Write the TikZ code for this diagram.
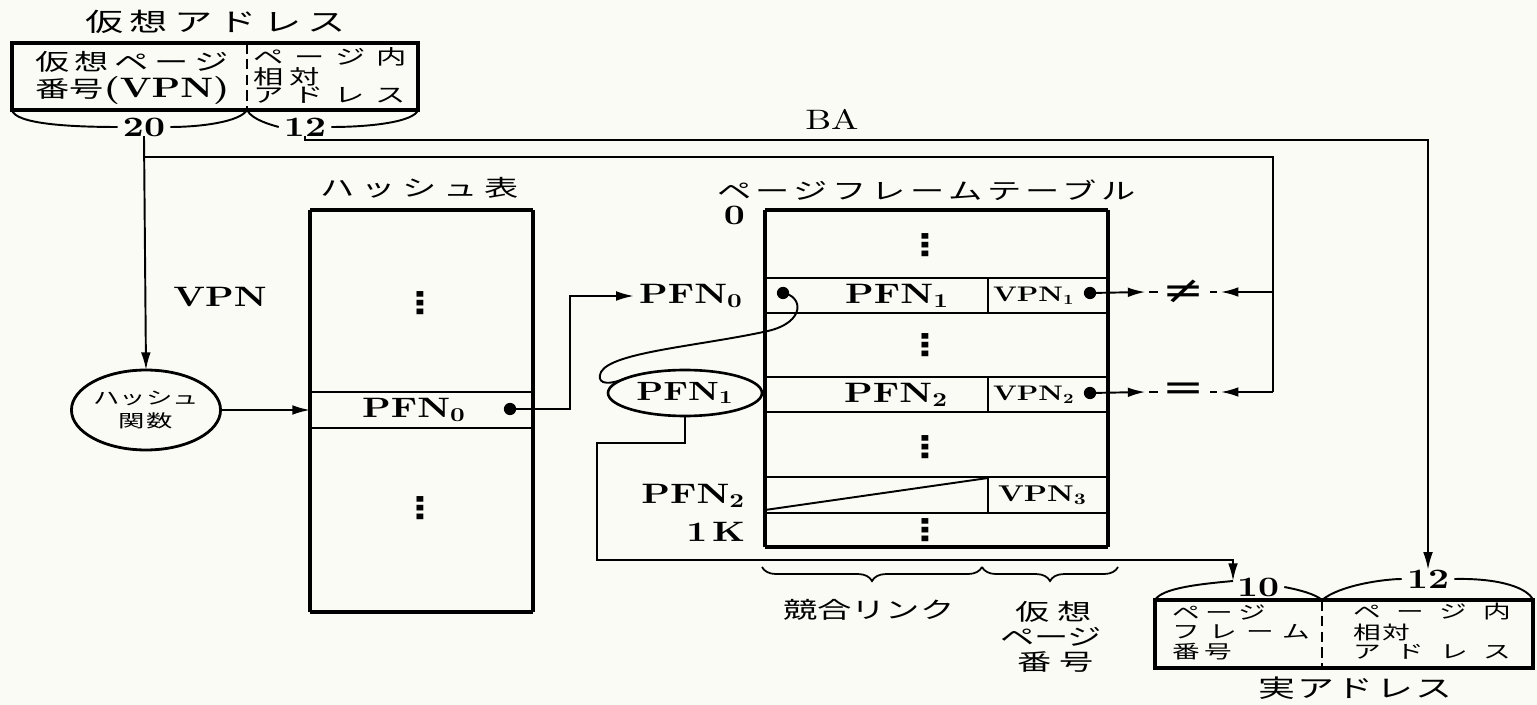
\documentclass[tikz,border=0pt]{standalone}
\usepackage{fontspec}
\usepackage{graphicx}
\usetikzlibrary{arrows.meta,positioning,shapes.geometric,decorations.pathreplacing,calc}
\newfontfamily\jpfont{Noto Sans CJK JP}[FakeStretch=1.5]
\newfontfamily\lmfont{lmroman10-regular}[Extension=.otf,BoldFont=lmroman10-bold,FakeStretch=1.3]
\newfontfamily\symfont{DejaVu Sans}[FakeStretch=1.3]
\newcommand\lsp[1]{\addfontfeature{LetterSpace=#1}}
\newcommand\sbs[1]{\textsubscript{#1}}
\definecolor{paper}{RGB}{251,251,246}

\begin{document}
\begin{tikzpicture}[>={Latex[length=10pt,width=5.5pt]},x=0.02cm,y=-0.02cm,line width=1.1pt,
  every node/.style={inner sep=0pt,outer sep=0pt},
  jt/.style={font=\jpfont\fontsize{#1}{#1}\selectfont},
  lt/.style={font=\lmfont\bfseries\fontsize{#1}{#1}\selectfont},
  dot/.style={circle,fill,minimum size=7pt},
  vdot/.style={font=\symfont\bfseries\fontsize{17}{17}\selectfont},
  rel/.style={font=\symfont\fontsize{22}{22}\selectfont},
  side/.style={line width=2.6pt},
  rim/.style={line width=1.9pt},
  row/.style={line width=1.2pt},
  split/.style={line width=1.4pt,dash pattern=on 6pt off 3pt},
  cbrace/.style={decorate,decoration={brace,mirror,amplitude=8pt},line width=1pt}]
\fill[paper] (0,0) rectangle (1537,705);
\useasboundingbox (0,0) rectangle (1537,705);

% virtual address
\node[jt=14.5,anchor=west] (vatitle) at (85,22) {\lsp{25}仮想アドレス};
\draw[rim] (12,43) rectangle (418,110);
\draw[split] (247,43) -- (247,110);
\node[jt=13,anchor=west] (vapn1) at (35,62) {\lsp{25}仮想ページ};
\node[anchor=west] (vapn2) at (35,90) {{\jpfont\fontsize{13}{13}\selectfont 番号}{\lmfont\bfseries\fontsize{16}{16}\selectfont(VPN)}};
\node[jt=11.5,anchor=west] (vaoff1) at (253,57) {\lsp{55}ページ内};
\node[jt=11.5,anchor=west] (vaoff2) at (253,77) {\lsp{30}相対};
\node[jt=11.5,anchor=west] (vaoff3) at (253,95) {\lsp{52}アドレス};
\node[lt=16,inner xsep=3pt] (n20) at (144,127) {20};
\node[lt=16,inner xsep=3pt] (n12) at (305,127) {12};
\draw (12,110) .. controls (15,124) and (70,127) .. (n20.west);
\draw (247,110) .. controls (240,122) and (200,127) .. (n20.east);
\draw (247,110) .. controls (252,120) and (272,125) .. (n12.west);
\draw (418,110) .. controls (414,122) and (370,127) .. (n12.east);
\node[font=\lmfont\fontsize{16}{16}\selectfont] (ba) at (832,119) {BA};
\coordinate (babus) at (1428,140);
\coordinate (cmpbus) at (1273,157);

% hash function and hash table
\node[lt=16] (vpnlbl) at (220,297) {VPN};
\node[draw,ellipse,line width=1.6pt,minimum width=2.76cm,minimum height=1.6cm,align=center,
  font=\jpfont\fontsize{10}{13.6}\selectfont] (hashfn) at (146,410) {ハッシュ\\\lsp{11}関数};
\node[jt=13,anchor=west] (htitle) at (320,188) {\lsp{30}ハッシュ表};
\node[minimum width=4.46cm,minimum height=8.04cm,anchor=north west] (htab) at (310,210) {};
\draw[side] (htab.north west) -- (htab.south west) (htab.north east) -- (htab.south east);
\draw[rim] (htab.north west) -- (htab.north east) (htab.south west) -- (htab.south east);
\draw[row] (310,392) -- (533,392) (310,428) -- (533,428);
\node[vdot] (hdots1) at (420,303) {⋮};
\node[vdot] (hdots2) at (420,508) {⋮};
\node[lt=16] (hpfn0) at (414,410) {PFN\sbs{0}};
\node[dot] (hd0) at (510,409) {};

% page frame table
\node[jt=13,anchor=west] (ptitle) at (717,190) {\lsp{20}ページフレームテーブル};
\node[minimum width=6.86cm,minimum height=6.74cm,anchor=north west] (ptab) at (765,210) {};
\draw[side] (ptab.north west) -- (ptab.south west) (ptab.north east) -- (ptab.south east);
\draw[rim] (ptab.north west) -- (ptab.north east) (ptab.south west) -- (ptab.south east);
\draw[row] (765,278) -- (1108,278) (765,313) -- (1108,313) (765,377) -- (1108,377)
  (765,412) -- (1108,412) (765,477) -- (1108,477) (765,513) -- (1108,513);
\draw[row] (988,278) -- (988,313) (988,377) -- (988,412) (988,477) -- (988,513);
\draw (765,510) -- (988,478);
\node[lt=16,anchor=east] (lbl0) at (745,215) {0};
\node[lt=16,anchor=east,inner xsep=3pt] (pfn0lbl) at (748,296) {PFN\sbs{0}};
\node[lt=16,anchor=east] (pfn2lbl) at (745,496) {PFN\sbs{2}};
\node[lt=16,anchor=east] (lbl1k) at (745,532) {1\,K};
\node[vdot] (pdots1) at (925,245) {⋮};
\node[vdot] (pdots2) at (925,345) {⋮};
\node[vdot] (pdots3) at (925,447) {⋮};
\node[vdot] (pdots4) at (925,530) {⋮};
\node[dot] (pd1) at (783,293) {};
\node[lt=16] (c1) at (897,296) {PFN\sbs{1}};
\node[lt=16] (c2) at (896,395) {PFN\sbs{2}};
\node[lt=12,anchor=west] (v1) at (993,296) {VPN\sbs{1}};
\node[lt=12,anchor=west] (v2) at (993,395) {VPN\sbs{2}};
\node[lt=13,anchor=west] (v3) at (998,495) {VPN\sbs{3}};
\node[dot] (vd1) at (1090,293) {};
\node[dot] (vd2) at (1090,393) {};
\node[draw,ellipse,line width=1.5pt,minimum width=3.08cm,minimum height=0.92cm,
  font=\lmfont\bfseries\fontsize{15}{15}\selectfont] (pfn1) at (685,393) {PFN\sbs{1}};

% compare
\node[rel] (neq) at (1184,292) {≠};
\node[rel] (eq) at (1184,392) {=};

% real address
\draw[rim] (1155,600) rectangle (1533,668);
\draw[split] (1322,600) -- (1322,668);
\node[lt=16,inner xsep=3pt] (ra10) at (1258,587) {10};
\node[lt=16,inner xsep=3pt] (ra12) at (1428,579) {12};
\coordinate (ra10in) at (1233,581);
\node[jt=10.5,anchor=west] (rpf1) at (1172,612) {\lsp{31}ページ};
\node[jt=10.5,anchor=west] (rpf2) at (1172,632) {\lsp{52}フレーム};
\node[jt=10.5,anchor=west] (rpf3) at (1172,652) {\lsp{24}番号};
\node[jt=10.5,anchor=west] (roff1) at (1353,612) {\lsp{86}ページ内};
\node[jt=10.5,anchor=west] (roff2) at (1353,632) {\lsp{8}相対};
\node[jt=10.5,anchor=west] (roff3) at (1353,652) {\lsp{86}アドレス};
\node[jt=14,anchor=west] (ratitle) at (1258,688) {\lsp{10}実アドレス};
\draw (1155,600) .. controls (1162,588) and (1200,584) .. (ra10in);
\draw (ra10.east) .. controls (1300,590) and (1315,594) .. (1322,600);
\draw (1322,600) .. controls (1340,585) and (1385,579) .. (ra12.west);
\draw (ra12.east) .. controls (1500,578) and (1528,588) .. (1533,600);

% braces under the table
\draw[cbrace] (762,567) -- (982,567);
\draw[cbrace] (982,567) -- (1118,567);
\node[jt=13,anchor=west] (clink) at (783,610) {競合リンク};
\node[jt=13,anchor=west] (vpg1) at (1015,612) {\lsp{36}仮想};
\node[jt=13,anchor=west] (vpg2) at (1000,637) {ページ};
\node[jt=13,anchor=west] (vpg3) at (1017,662) {\lsp{35}番号};

% connectors
\draw[->] (n20.south) -- (hashfn.north);
\draw (n20.south) |- (cmpbus) -- (cmpbus |- eq);
\draw[->] (n12.south) |- (babus) -- (ra12.north);
\draw[->] (hashfn.east) -- (hashfn.east -| htab.west);
\draw[->] (hd0) -- ++(60,0) |- (pfn0lbl.west);
\draw (pd1.center) .. controls (803,296) and (806,322) .. (768,331)
  .. controls (700,346) and (612,352) .. (601,372) .. controls (597,381) and (602,388) .. (pfn1.165);
\draw[->] (pfn1.south) |- (597,443) |- (1233,560) -- (ra10in);
\draw[->] (vd1) -- ([xshift=-10pt]neq.west);
\draw ([xshift=-8pt]neq.west) -- ([xshift=-3pt]neq.west);
\draw[->] (cmpbus |- neq) -- ([xshift=9pt]neq.east);
\draw ([xshift=3pt]neq.east) -- ([xshift=7pt]neq.east);
\draw[->] (vd2) -- ([xshift=-10pt]eq.west);
\draw ([xshift=-8pt]eq.west) -- ([xshift=-3pt]eq.west);
\draw[->] (cmpbus |- eq) -- ([xshift=9pt]eq.east);
\draw ([xshift=3pt]eq.east) -- ([xshift=7pt]eq.east);
\end{tikzpicture}
\end{document}
